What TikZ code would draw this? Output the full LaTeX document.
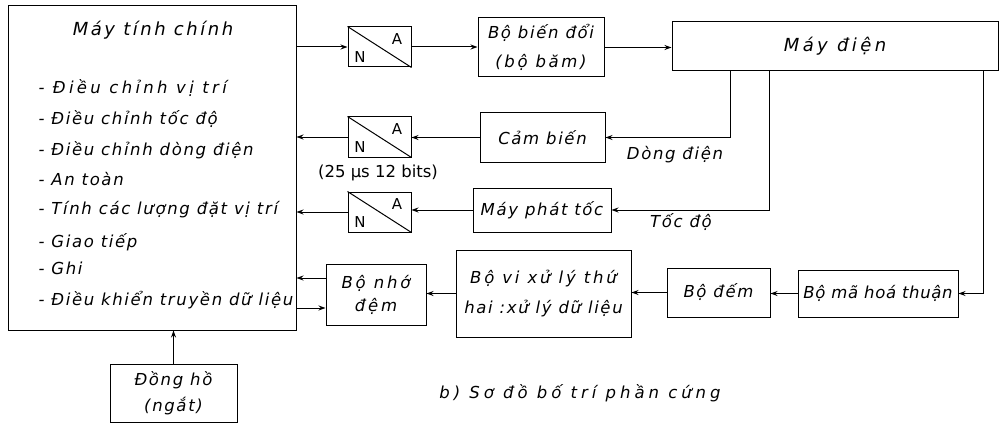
\documentclass[tikz,border=0pt]{standalone}
\usepackage{fontspec}
\setmainfont{DejaVu Sans}
\newfontfamily\hand{DejaVu Sans Oblique}[LetterSpace=10]
\newcommand{\lsp}[1]{\addfontfeature{LetterSpace=#1}}
\usetikzlibrary{arrows.meta,calc}
\begin{document}
\begin{tikzpicture}[x=1pt,y=-1pt,line width=1pt,
  arr/.style={-{Stealth[length=7pt,width=5pt]}},
  box/.style={draw,inner sep=0pt,align=center},
  txt/.style={font=\hand\fontsize{16.5}{19}\selectfont},
  item/.style={anchor=west,inner sep=0pt,font=\hand\fontsize{16.5}{19}\selectfont},
  nabox/.style={draw,inner sep=0pt,minimum width=63pt,minimum height=40pt},
  naletter/.style={inner sep=0pt,font=\fontsize{15}{18}\selectfont}]
\useasboundingbox (0,0) rectangle (1000,425);
% main computer
\node[box,minimum width=288pt,minimum height=324pt] (main) at (152,168) {};
\node[inner sep=0pt,font=\hand\fontsize{18}{20}\selectfont\lsp{14}] (title) at (153,30) {Máy tính chính};
\node[item,font=\hand\fontsize{16.5}{19}\selectfont\lsp{20}] (i1) at (38,88) {- Điều chỉnh vị trí};
\node[item] (i2) at (38,119) {- Điều chỉnh tốc độ};
\node[item] (i3) at (38,150) {- Điều chỉnh dòng điện};
\node[item] (i4) at (38,179) {- An toàn};
\node[item] (i5) at (38,210) {- Tính các lượng đặt vị trí};
\node[item] (i6) at (38,242) {- Giao tiếp};
\node[item] (i7) at (38,268) {- Ghi};
\node[item] (i8) at (38,300) {- Điều khiển truyền dữ liệu};
% N/A converters
\node[nabox] (na1) at (379.5,47) {};
\node[nabox] (na2) at (379.5,137) {};
\node[nabox] (na3) at (379.5,212) {};
\foreach \n in {na1,na2,na3}{
  \draw (\n.north west) -- (\n.south east);
  \node[naletter] at ($(\n.center)+(-19.5,10)$) {N};
  \node[naletter] at ($(\n.center)+(17.5,-8)$) {A};
}
\node[inner sep=0pt,font=\fontsize{16.5}{18}\selectfont] (bits) at (378,173) {(25 µs 12 bits)};
% other blocks
\node[box,minimum width=126pt,minimum height=59pt,font=\hand\fontsize{16.5}{29}\selectfont] (bbd) at (541,47.5) {Bộ biến đổi\\{\lsp{16}(bộ băm)}};
\node[box,txt,minimum width=125pt,minimum height=49pt] (cb) at (542.5,137.5) {Cảm biến};
\node[box,txt,minimum width=138pt,minimum height=44pt] (mpt) at (542,210) {Máy phát tốc};
\node[box,minimum width=326pt,minimum height=49pt,font=\hand\fontsize{18}{20}\selectfont\lsp{19}] (md) at (835,46.5) {Máy điện};
\node[box,minimum width=160pt,minimum height=47pt,font=\hand\fontsize{16.5}{19}\selectfont\lsp{4}] (mh) at (878,293.5) {Bộ mã hoá thuận};
\node[box,txt,minimum width=103pt,minimum height=49pt] (dem) at (718.5,292.5) {Bộ đếm};
\node[box,minimum width=175pt,minimum height=87pt,font=\hand\fontsize{16.5}{30}\selectfont] (vxl) at (543.5,293.5) {{\lsp{17}Bộ vi xử lý thứ}\\hai :xử lý dữ liệu};
\node[box,minimum width=100pt,minimum height=61pt,font=\hand\fontsize{16.5}{23}\selectfont\lsp{17}] (nho) at (376,294.5) {Bộ nhớ\\đệm};
\node[box,minimum width=127pt,minimum height=58pt,font=\hand\fontsize{16.5}{26}\selectfont] (dh) at (173.5,393) {Đồng hồ\\(ngắt)};
% labels
\node[txt,inner sep=0pt] (ldd) at (675,155) {Dòng điện};
\node[txt,inner sep=0pt] (ltd) at (681,222) {Tốc độ};
\node[inner sep=0pt,font=\hand\fontsize{16.5}{19}\selectfont\lsp{24}] (cap) at (580,393) {b) Sơ đồ bố trí phần cứng};
% helper points
\coordinate (nhoA) at ([yshift=16.5pt]nho.west);
\coordinate (nhoB) at ([yshift=-13.5pt]nho.west);
% connectors
\draw[arr] (main.east |- na1.west) -- (na1.west);
\draw[arr] (na1.east) -- (bbd.west |- na1.east);
\draw[arr] (bbd.east) -- (md.west |- bbd.east);
\draw[arr] ([xshift=-105pt]md.south) |- (cb.east);
\draw[arr] ([xshift=-66pt]md.south) |- (mpt.east);
\draw[arr] ([xshift=148pt]md.south) |- (mh.east);
\draw[arr] (cb.west) -- (na2.east |- cb.west);
\draw[arr] (na2.west) -- (main.east |- na2.west);
\draw[arr] (mpt.west) -- (na3.east |- mpt.west);
\draw[arr] (na3.west) -- (main.east |- na3.west);
\draw[arr] (mh.west) -- (dem.east |- mh.west);
\draw[arr] (dem.west) -- (vxl.east |- dem.west);
\draw[arr] (vxl.west) -- (nho.east |- vxl.west);
\draw[arr] (nhoA) -- (main.east |- nhoA);
\draw[arr] (main.east |- nhoB) -- (nhoB);
\draw[arr] (dh.north) -- (main.south -| dh.north);
\end{tikzpicture}
\end{document}
